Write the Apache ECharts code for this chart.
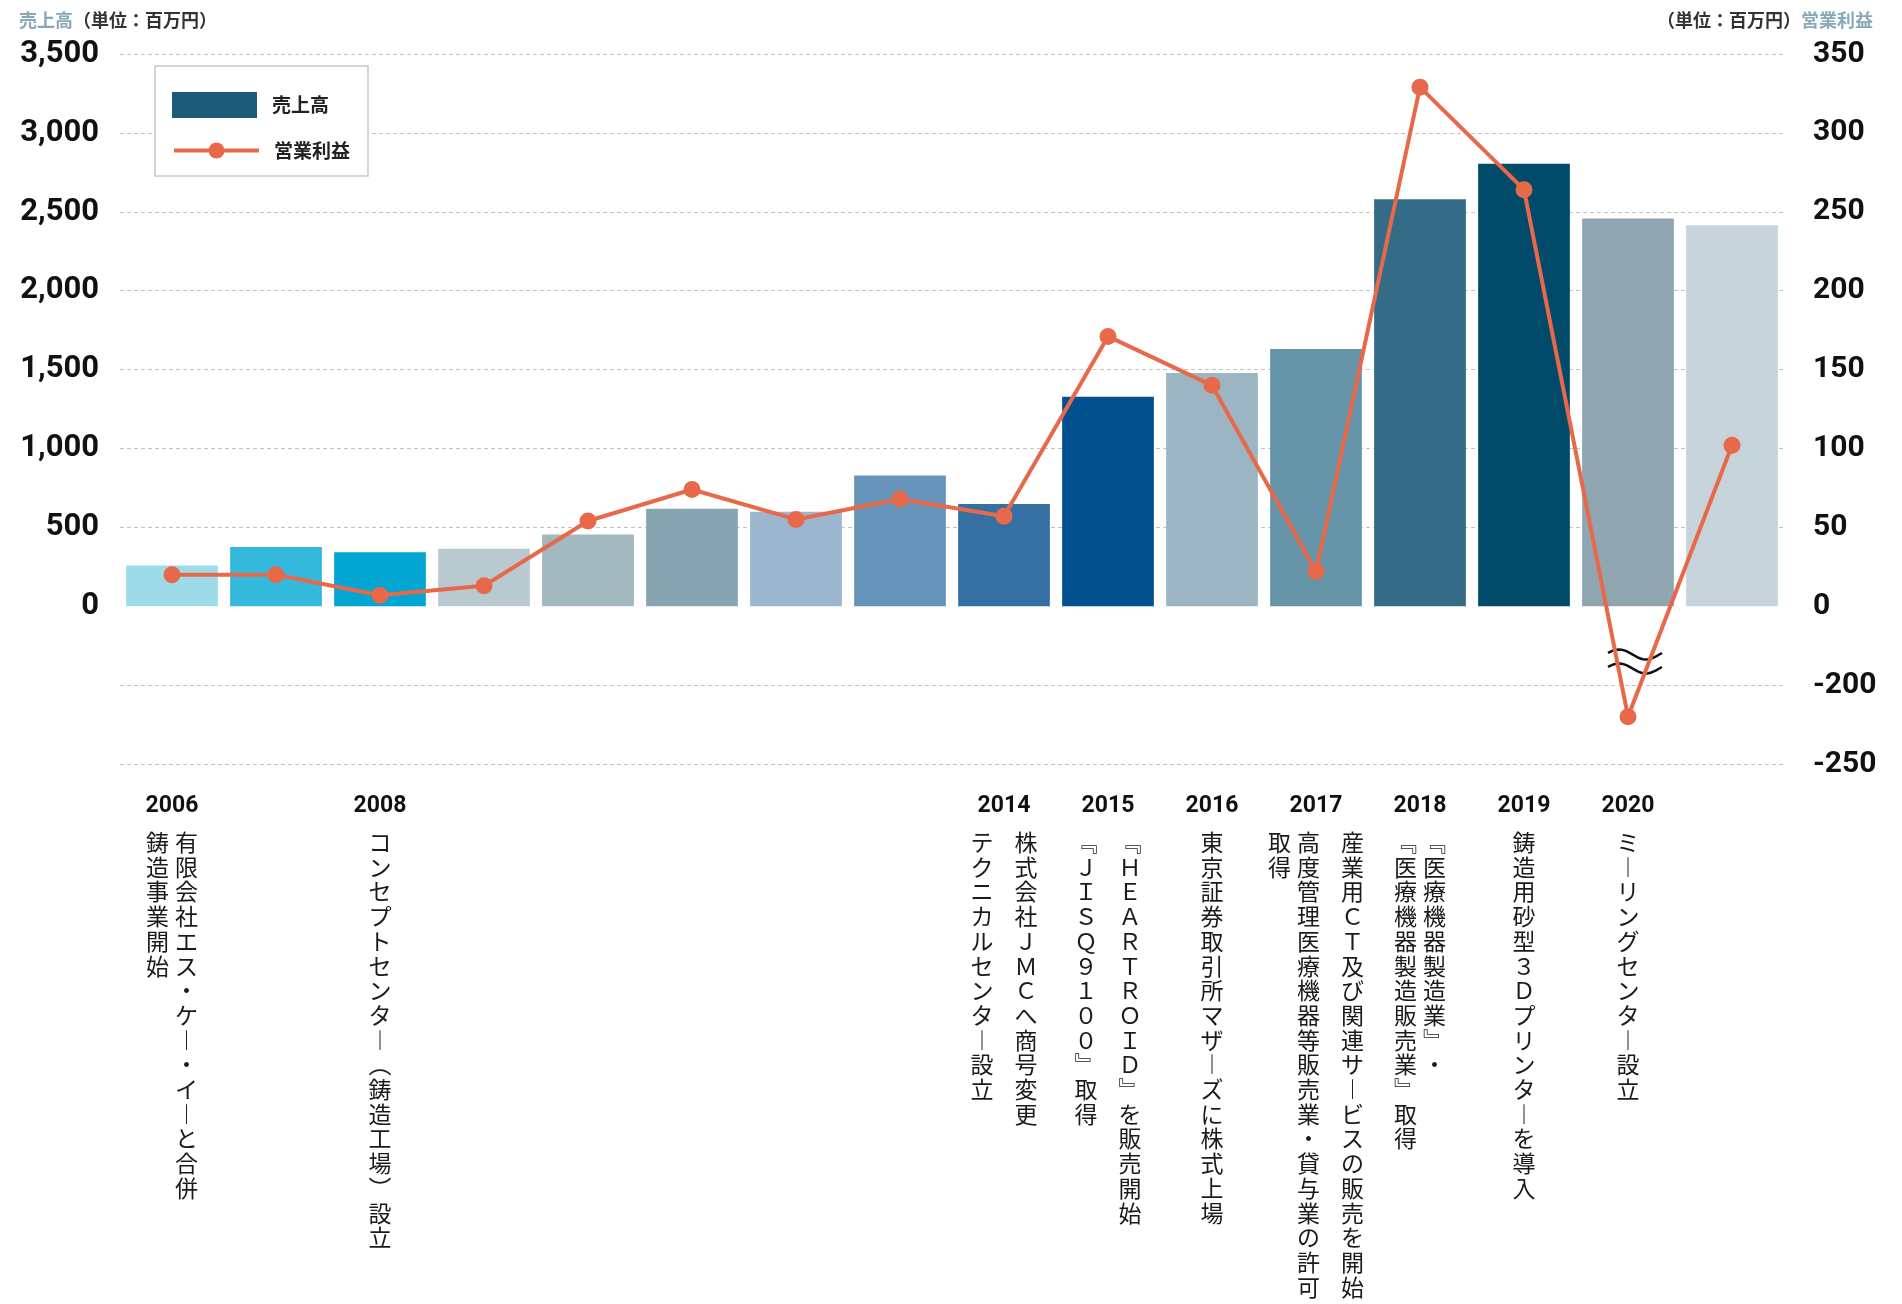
<!DOCTYPE html>
<html>
<head>
<meta charset="utf-8">
<script src="https://cdn.jsdelivr.net/npm/echarts@6.0.0/dist/echarts.min.js"></script>
<style>
  html, body { margin: 0; padding: 0; background: #fff; }
  #main { width: 1902px; height: 1304px; }
</style>
</head>
<body>
<div id="main"></div>
<script>
// 年度
var years = ['2006', '2007', '2008', '2009', '2010', '2011', '2012', '2013',
             '2014', '2015', '2016', '2017', '2018', '2019', '2020', '2021'];
// 売上高（百万円）
var sales = [258, 375, 342, 365, 455, 618, 598, 828, 648, 1328, 1478, 1630, 2580, 2805, 2458, 2415];
// 営業利益（百万円）
var profit = [20, 20, 7, 13, 54, 74, 55, 68, 57, 171, 140, 22, 329, 264, -220, 102];
var barColors = ['#9ddaea', '#34b8db', '#03a6d2', '#b8cad0', '#a1b8bf', '#87a5b0', '#9cb6d0', '#6694bb',
                 '#3670a3', '#03508f', '#9cb5c3', '#6694a8', '#346b86', '#024a6a', '#8fa5b0', '#c6d3da'];
// 沿革（縦書き、右の列から）
var notes = {
  '2006': [['有限会社エス・ケー・イーと合併', '鋳造事業開始']],
  '2008': [['コンセプトセンター（鋳造工場）設立']],
  '2014': [['株式会社ＪＭＣへ商号変更'], ['テクニカルセンター設立']],
  '2015': [['『ＨＥＡＲＴＲＯＩＤ』を販売開始'], ['『ＪＩＳＱ９１００』取得']],
  '2016': [['東京証券取引所マザーズに株式上場']],
  '2017': [['産業用ＣＴ及び関連サービスの販売を開始'], ['高度管理医療機器等販売業・貸与業の許可', '取得']],
  '2018': [['『医療機器製造業』・', '『医療機器製造販売業』取得']],
  '2019': [['鋳造用砂型３Ｄプリンターを導入']],
  '2020': [['ミーリングセンター設立']]
};

// 右軸は 0 と -200 の間を省略
var BREAK_SHIFT = 150;
function toPlot(v) { return v < 0 ? v + BREAK_SHIFT : v; }

var vertMap = { 'ー': '︱', '『': '﹃', '』': '﹄', '（': '︵', '）': '︶' };
function vertical(s) {
  return s.split('').map(function (c) { return vertMap[c] || c; }).join('\n');
}

var NUM_FONT = 'Roboto, "Noto Sans", sans-serif';
var JP_FONT = '"Noto Sans CJK JP", sans-serif';

var chart = echarts.init(document.getElementById('main'));

var gridColors = [];
for (var i = 0; i < 10; i++) gridColors.push(i === 2 ? 'rgba(0,0,0,0)' : '#c4c4c4');

var option = {
  animation: false,
  backgroundColor: '#fff',
  title: [{
    left: 14, top: 6,
    text: '{a|売上高}{b|（単位：百万円）}',
    textStyle: {
      rich: {
        a: { fontSize: 18, color: '#86a8b8', fontFamily: JP_FONT },
        b: { fontSize: 18, color: '#333', fontFamily: JP_FONT }
      }
    }
  }, {
    right: 24, top: 6,
    text: '{b|（単位：百万円）}{a|営業利益}',
    textStyle: {
      rich: {
        a: { fontSize: 18, color: '#86a8b8', fontFamily: JP_FONT },
        b: { fontSize: 18, color: '#333', fontFamily: JP_FONT }
      }
    }
  }],
  legend: [{
    data: [{ name: '売上高', icon: 'rect' }],
    left: 172, top: 92, padding: 0,
    itemWidth: 85, itemHeight: 26,
    textStyle: { fontSize: 19, fontWeight: 'bold', color: '#222', fontFamily: JP_FONT, padding: [0, 0, 0, 10] },
    z: 10
  }, {
    data: ['営業利益'],
    left: 172, top: 141, padding: 0,
    itemWidth: 85, itemHeight: 20,
    lineStyle: { width: 4 },
    textStyle: { fontSize: 19, fontWeight: 'bold', color: '#222', fontFamily: JP_FONT, padding: [0, 0, 0, 10] },
    z: 10
  }],
  grid: { left: 120, right: 118, top: 54, bottom: 540 },
  xAxis: {
    type: 'category',
    data: years,
    axisLine: { show: false },
    axisTick: { show: false },
    axisLabel: {
      interval: 0,
      margin: 31,
      fontSize: 23,
      fontWeight: 'bold',
      color: '#111',
      fontFamily: NUM_FONT,
      formatter: function (v) { return notes[v] ? v : ''; }
    }
  },
  yAxis: [{
    type: 'value',
    position: 'left',
    min: -1000, max: 3500, interval: 500,
    axisLine: { show: false },
    axisTick: { show: false },
    axisLabel: {
      margin: 21,
      fontSize: 31,
      fontWeight: 'bold',
      color: '#111',
      fontFamily: NUM_FONT,
      formatter: function (v) { return v < 0 ? '' : v.toLocaleString('en-US'); }
    },
    splitLine: { lineStyle: { type: [4, 3], color: gridColors, width: 1 } }
  }, {
    type: 'value',
    position: 'right',
    min: -100, max: 350, interval: 50,
    axisLine: { show: false },
    axisTick: { show: false },
    splitLine: { show: false },
    axisLabel: {
      margin: 29,
      fontSize: 30,
      fontWeight: 'bold',
      color: '#111',
      fontFamily: NUM_FONT,
      formatter: function (v) { return v < 0 ? String(v - BREAK_SHIFT) : String(v); }
    }
  }],
  series: [{
    name: '売上高',
    type: 'bar',
    barCategoryGap: '11.8%',
    itemStyle: { color: '#1d5a79' },
    data: sales.map(function (v, i) {
      return { value: v, itemStyle: { color: barColors[i] } };
    })
  }, {
    name: '営業利益',
    type: 'line',
    yAxisIndex: 1,
    symbol: 'circle',
    symbolSize: 17,
    lineStyle: { width: 4, color: '#e8694a' },
    itemStyle: { color: '#e8694a' },
    data: profit.map(toPlot)
  }]
};
chart.setOption(option);

// 凡例の枠・省略記号・縦書きの沿革
var graphics = [{
  type: 'rect', z: 5,
  shape: { x: 155, y: 66, width: 213, height: 110 },
  style: { fill: '#fff', stroke: '#c8c8c8', lineWidth: 1.5 }
}];

var bx = chart.convertToPixel({ xAxisIndex: 0 }, '2020') + 7;
var by = chart.convertToPixel({ yAxisIndex: 1 }, -35);
function wave(base) {
  var pts = [];
  for (var k = 0; k <= 20; k++) {
    var t = k / 20;
    pts.push([-27 + 54 * t, base - 5 * Math.sin(2 * Math.PI * t + 0.3)]);
  }
  return pts;
}
var waveTop = wave(-7), waveBot = wave(7);
graphics.push({
  type: 'group', x: bx, y: by, z: 100,
  children: [
    { type: 'polygon', shape: { points: waveTop.concat(waveBot.slice().reverse()) }, style: { fill: '#fff' } },
    { type: 'polyline', shape: { points: waveTop }, style: { stroke: '#fff', lineWidth: 9, fill: null } },
    { type: 'polyline', shape: { points: waveBot }, style: { stroke: '#fff', lineWidth: 9, fill: null } },
    { type: 'polyline', shape: { points: waveTop }, style: { stroke: '#111', lineWidth: 2.5, fill: null } },
    { type: 'polyline', shape: { points: waveBot }, style: { stroke: '#111', lineWidth: 2.5, fill: null } }
  ]
});

var textTop = chart.convertToPixel({ yAxisIndex: 0 }, -1000) + 66;
Object.keys(notes).forEach(function (yr) {
  var xc = chart.convertToPixel({ xAxisIndex: 0 }, yr);
  var cols = [];
  var off = 0;
  notes[yr].forEach(function (para) {
    para.forEach(function (line, li) {
      if (cols.length) off += (li === 0 ? 44 : 29);
      cols.push({ text: line, off: off });
    });
  });
  cols.forEach(function (c) {
    graphics.push({
      type: 'text', z: 10,
      x: xc + off / 2 - c.off,
      y: textTop,
      style: {
        text: vertical(c.text),
        fontSize: 23,
        fontFamily: JP_FONT,
        fill: '#1a1a1a',
        lineHeight: 24.7,
        align: 'center',
        verticalAlign: 'top'
      }
    });
  });
});

chart.setOption({ graphic: graphics });
</script>
</body>
</html>
